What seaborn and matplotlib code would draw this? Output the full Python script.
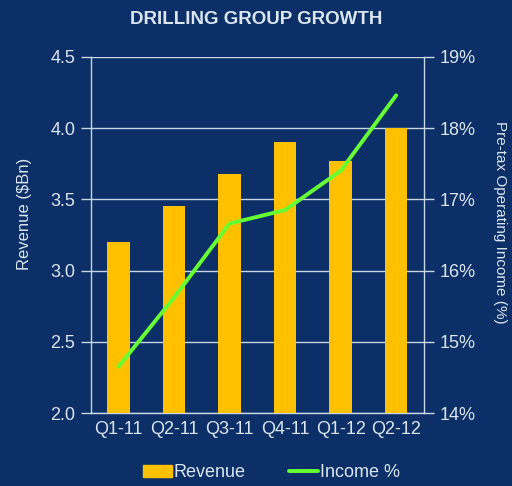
import matplotlib
matplotlib.use("Agg")
import matplotlib.pyplot as plt
import seaborn as sns
import pandas as pd
from matplotlib.patches import Patch
from matplotlib.lines import Line2D
from matplotlib.ticker import FuncFormatter

quarters = ["Q1-11", "Q2-11", "Q3-11", "Q4-11", "Q1-12", "Q2-12"]
revenue = [3.20, 3.45, 3.68, 3.90, 3.77, 4.00]
income_pct = [14.65, 15.62, 16.66, 16.85, 17.40, 18.46]

BG = "#0B2F66"
BAR = "#FFC000"
LINE = "#66FF33"
TXT = "#DCE6F2"
GRID = "#C9D6E8"

sns.set_theme(style="white")
plt.rcParams["font.family"] = ["Liberation Sans", "DejaVu Sans"]

df = pd.DataFrame({"quarter": quarters, "revenue": revenue, "income": income_pct})

fig = plt.figure(figsize=(5.12, 4.86), dpi=100, facecolor=BG)
ax = fig.add_axes([0.177, 0.150, 0.651, 0.733])
ax.set_facecolor(BG)

sns.barplot(data=df, x="quarter", y="revenue", color=BAR, width=0.4,
            saturation=1, linewidth=0, edgecolor=BAR, ax=ax, zorder=3)
ax.set_ylim(2.0, 4.5)
ax.set_yticks([2.0, 2.5, 3.0, 3.5, 4.0, 4.5])
ax.yaxis.set_major_formatter(FuncFormatter(lambda v, p: f"{v:.1f}"))
ax.set_xlim(-0.5, 5.5)
ax.grid(axis="y", color=GRID, linewidth=1.0, zorder=0)
ax.set_axisbelow(True)

ax.set_xlabel("")
ax.set_ylabel("Revenue ($Bn)", color=TXT, fontsize=12)
ax.yaxis.set_label_coords(-0.175, 0.56)
ax.set_xticks([0, 1, 2, 3, 4, 5])
ax.set_xticklabels(quarters)
ax.set_xticks([-0.5, 0.5, 1.5, 2.5, 3.5, 4.5, 5.5], minor=True)
ax.tick_params(axis="x", which="major", length=0, colors=TXT, labelsize=13, pad=6)
ax.tick_params(axis="x", which="minor", length=5, color=GRID, width=1, direction="out")
ax.tick_params(axis="y", length=7, color=GRID, width=1, colors=TXT, labelsize=13, pad=4)
for s in ["top", "right"]:
    ax.spines[s].set_visible(False)
for s in ["left", "bottom"]:
    ax.spines[s].set_color(GRID)
    ax.spines[s].set_linewidth(1.0)

ax2 = ax.twinx()
sns.pointplot(data=df, x="quarter", y="income", color=LINE, markers="",
              linewidth=2.8, ax=ax2, zorder=5)
ax2.set_ylim(14, 19)
ax2.set_yticks([14, 15, 16, 17, 18, 19])
ax2.yaxis.set_major_formatter(FuncFormatter(lambda v, p: f"{v:.0f}%"))
ax2.set_xlim(-0.5, 5.5)
ax2.set_ylabel("Pre-tax Operating Income (%)", color=TXT, fontsize=11,
               rotation=270)
ax2.yaxis.set_label_coords(1.25, 0.535)
ax2.tick_params(axis="y", length=7, color=GRID, width=1, colors=TXT, labelsize=13, pad=4)
for s in ["top", "left", "bottom"]:
    ax2.spines[s].set_visible(False)
ax2.spines["right"].set_color(GRID)
ax2.spines["right"].set_linewidth(1.0)

fig.text(0.5, 0.96, "DRILLING GROUP GROWTH", ha="center", va="center",
         color=TXT, fontsize=13.5, fontweight="bold")

handles = [Patch(facecolor=BAR, edgecolor=BAR, label="Revenue"),
           Line2D([0], [0], color=LINE, linewidth=2.8, label="Income %")]
leg = fig.legend(handles=handles, loc="center", bbox_to_anchor=(0.53, 0.027),
                 ncol=2, frameon=False, fontsize=13, handlelength=1.6,
                 handletextpad=0.1, columnspacing=2.4)
for t in leg.get_texts():
    t.set_color(TXT)

fig.savefig("out.png", dpi=100, facecolor=BG)
